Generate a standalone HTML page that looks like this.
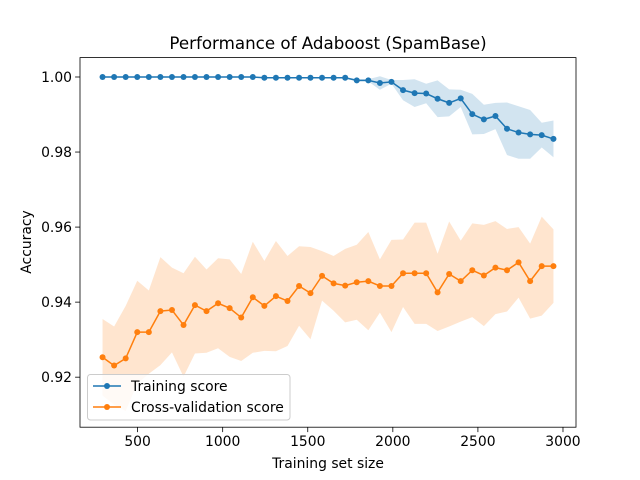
<!DOCTYPE html>
<html><head><meta charset="utf-8"><style>
html,body{margin:0;padding:0;background:#fff;}
svg{display:block;font-family:"DejaVu Sans","Liberation Sans",sans-serif;}
</style></head><body>
<svg id="chart" width="640" height="480" viewBox="0 0 640 480" xmlns="http://www.w3.org/2000/svg">
<rect width="640" height="480" fill="#fff"/>
<defs><clipPath id="clip"><rect x="80" y="57.6" width="496" height="369.6"/></clipPath></defs>
<text x="328" y="49" font-size="16.7" text-anchor="middle" fill="#000">Performance of Adaboost (SpamBase)</text>
<text x="328" y="468" font-size="13.9" text-anchor="middle" fill="#000">Training set size</text>
<text x="31" y="242" font-size="13.9" text-anchor="middle" fill="#000" transform="rotate(-90 31 242)">Accuracy</text>
<g id="plot" clip-path="url(#clip)"></g>
<g id="axes"></g>
<g>
<rect x="87.5" y="374.5" width="202.5" height="45.5" rx="3" fill="#fff" fill-opacity="0.8" stroke="#ccc" stroke-width="1"/>
<line x1="93" y1="386" x2="121" y2="386" stroke="#1f77b4" stroke-width="1.5"/>
<circle cx="107" cy="386" r="3" fill="#1f77b4"/>
<text x="131" y="391" font-size="13.9">Training score</text>
<line x1="93" y1="407" x2="121" y2="407" stroke="#ff7f0e" stroke-width="1.5"/>
<circle cx="107" cy="407" r="3" fill="#ff7f0e"/>
<text x="131" y="412" font-size="13.9">Cross-validation score</text>
</g>
</svg>
<script>
const trainSizes = [294,362,430,498,566,634,702,770,837,905,973,1041,1109,1177,1245,1313,1381,1449,1516,1584,1652,1720,1788,1856,1924,1992,2060,2128,2196,2263,2331,2399,2467,2535,2603,2671,2739,2807,2875,2944];
const trainMean = [1,1,1,1,1,1,1,1,1,1,1,1,1,1,0.9998,0.9998,0.9998,0.9998,0.9998,0.9998,0.9998,0.9998,0.9991,0.9991,0.9984,0.9987,0.9965,0.9957,0.9956,0.9942,0.9931,0.9943,0.9901,0.9887,0.9896,0.9862,0.9852,0.9847,0.9845,0.9835];
const trainStd = [0,0,0,0,0,0,0,0,0,0,0,0,0,0,0.0002,0.0002,0.0002,0.0002,0.0002,0.0002,0.0002,0.0002,0.0003,0.0003,0.0018,0.0005,0.0027,0.0037,0.0026,0.0049,0.0036,0.0023,0.0054,0.0039,0.0035,0.0070,0.0070,0.0065,0.0033,0.0049];
const cvMean = [0.9253,0.9231,0.9250,0.9320,0.9320,0.9376,0.9379,0.9339,0.9392,0.9376,0.9397,0.9384,0.9359,0.9413,0.9390,0.9416,0.9403,0.9443,0.9424,0.9470,0.9450,0.9444,0.9453,0.9456,0.9443,0.9443,0.9477,0.9477,0.9477,0.9426,0.9475,0.9456,0.9485,0.9471,0.9492,0.9485,0.9506,0.9456,0.9496,0.9496];
const cvStd = [0.0102,0.0104,0.0140,0.0137,0.0111,0.0144,0.0113,0.0138,0.0129,0.0111,0.0120,0.0130,0.0116,0.0148,0.0120,0.0147,0.0120,0.0106,0.0123,0.0066,0.0073,0.0098,0.0100,0.0131,0.0071,0.0123,0.0090,0.0135,0.0135,0.0103,0.0140,0.0108,0.0125,0.0135,0.0124,0.0110,0.0094,0.0100,0.0132,0.0098];
const xTicks = [500,1000,1500,2000,2500,3000];
const yTicks = [0.92,0.94,0.96,0.98,1.00];

const NS = "http://www.w3.org/2000/svg";
const L=80,R=576,T=57.6,B=427.2;
const xMin = trainSizes[0] - 0.05*(trainSizes[trainSizes.length-1]-trainSizes[0]);
const xMax = trainSizes[trainSizes.length-1] + 0.05*(trainSizes[trainSizes.length-1]-trainSizes[0]);
const yMin = 0.90667, yMax = 1.00517;
const xs = v => L + (v-xMin)/(xMax-xMin)*(R-L);
const ys = v => B - (v-yMin)/(yMax-yMin)*(B-T);
function mk(tag, attrs, parent){const e=document.createElementNS(NS,tag);for(const k in attrs)e.setAttribute(k,attrs[k]);parent.appendChild(e);return e;}
const plot=document.getElementById('plot'), axes=document.getElementById('axes');

function series(mean,std,color,fill,name){
  const up=trainSizes.map((x,i)=>xs(x)+','+ys(mean[i]+std[i]));
  const lo=trainSizes.map((x,i)=>xs(x)+','+ys(mean[i]-std[i])).reverse();
  const band=mk('polygon',{points:up.concat(lo).join(' '),fill:fill,'fill-opacity':0.2},plot);
  
  
  const line=mk('polyline',{points:trainSizes.map((x,i)=>xs(x)+','+ys(mean[i])).join(' '),fill:'none',stroke:color,'stroke-width':1.5},plot);
  
  
  trainSizes.forEach((x,i)=>{
    const c=mk('circle',{cx:xs(x),cy:ys(mean[i]),r:3,fill:color},plot);
    
    
  });
}
series(trainMean,trainStd,'#1f77b4','#1f77b4','training-score');
series(cvMean,cvStd,'#ff7f0e','#ff7f0e','cv-score');

xTicks.forEach(t=>{
  const x=xs(t);
  mk('line',{x1:x,y1:B,x2:x,y2:B+4.9,stroke:'#000','stroke-width':0.8},axes);
  const tx=mk('text',{x:x,y:B+19,'font-size':13.9,'text-anchor':'middle'},axes);
  tx.textContent=t;
  
  
});
yTicks.forEach(t=>{
  const y=ys(t);
  mk('line',{x1:L-4.9,y1:y,x2:L,y2:y,stroke:'#000','stroke-width':0.8},axes);
  const tx=mk('text',{x:L-8,y:y+5,'font-size':13.9,'text-anchor':'end'},axes);
  tx.textContent=t.toFixed(2);
  
  
});
const frame=mk('rect',{x:L,y:T,width:R-L,height:B-T,fill:'none',stroke:'#000','stroke-width':0.8},axes);


</script>
</body></html>
